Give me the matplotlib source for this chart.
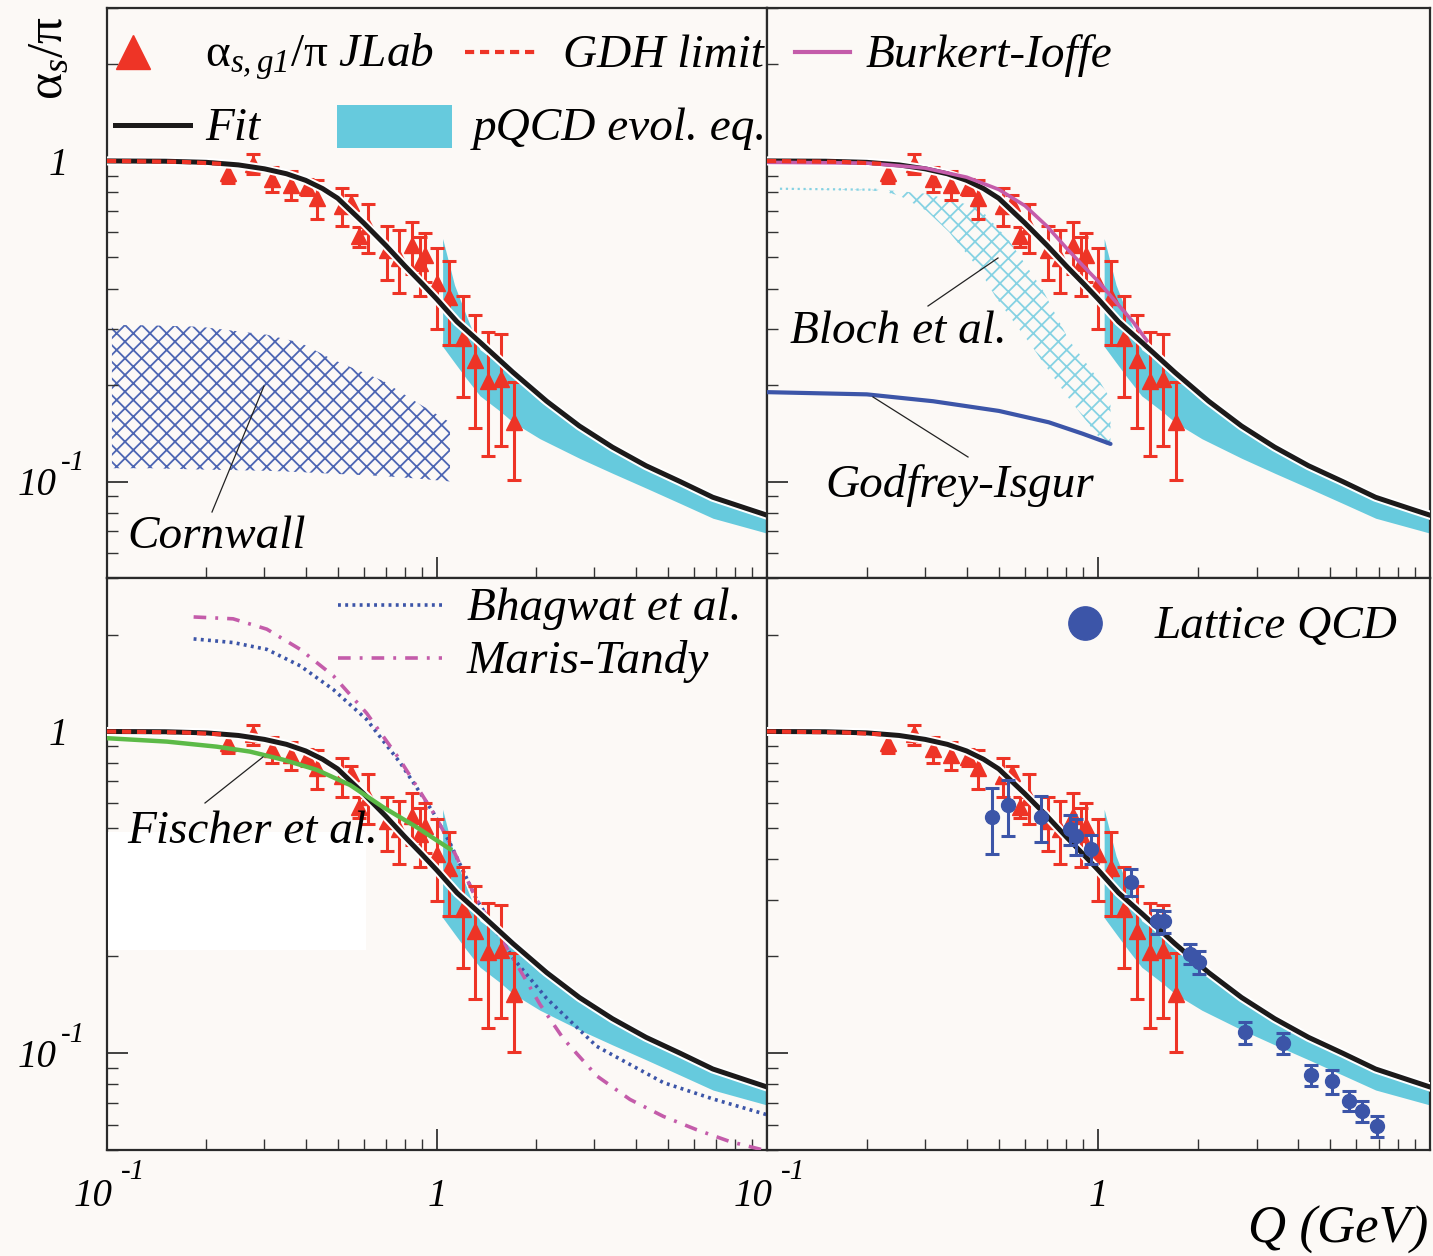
import numpy as np
import matplotlib
matplotlib.use("Agg")
import matplotlib.pyplot as plt
import matplotlib.patheffects as pe
from matplotlib.ticker import FixedLocator, LogLocator, NullFormatter
from matplotlib.patches import Rectangle

W, H = 1433, 1256

plt.rcParams['font.family'] = ['Liberation Serif', 'DejaVu Serif']
plt.rcParams['mathtext.fontset'] = 'custom'
plt.rcParams['mathtext.rm'] = 'Liberation Serif:italic'
plt.rcParams['mathtext.it'] = 'Liberation Serif:italic'
plt.rcParams['mathtext.sf'] = 'Liberation Serif'
plt.rcParams['hatch.linewidth'] = 1.3

# JLab alpha_s,g1/pi points
jlab_q = [0.232, 0.277, 0.316, 0.360, 0.403, 0.432, 0.514, 0.547, 0.580, 0.618, 0.706,
          0.767, 0.838, 0.888, 0.920, 0.998, 1.087, 1.196, 1.307, 1.430, 1.560, 1.711]
jlab_a = [0.920, 0.979, 0.880, 0.843, 0.831, 0.768, 0.726, 0.741, 0.582, 0.625, 0.526,
          0.497, 0.545, 0.480, 0.508, 0.416, 0.377, 0.281, 0.239, 0.206, 0.209, 0.153]
jlab_err = [0.065, 0.07, 0.08, 0.085, 0.05, 0.107, 0.10, 0.04, 0.042, 0.11, 0.10,
            0.11, 0.10, 0.10, 0.09, 0.118, 0.11, 0.097, 0.092, 0.086, 0.08, 0.052]

# fit
fit_q = [0.10, 0.15, 0.20, 0.25, 0.30, 0.35, 0.40, 0.45, 0.50, 0.60, 0.70, 0.80, 0.90,
         1.00, 1.15, 1.35, 1.70, 2.15, 2.70, 3.40, 4.30, 5.45, 6.85, 8.70, 10.0]
fit_a = [1.000, 0.998, 0.990, 0.972, 0.945, 0.912, 0.870, 0.820, 0.765, 0.640, 0.545, 0.470, 0.415,
         0.370, 0.315, 0.272, 0.219, 0.178, 0.149, 0.128, 0.112, 0.100, 0.0893, 0.0823, 0.0785]

# GDH limit
gdh_q = [0.10, 0.17, 0.23]
gdh_a = [1.000, 0.993, 0.978]

# pQCD evolution band
band_q = [1.04, 1.13, 1.23, 1.35, 1.55, 1.70, 2.05, 2.71, 3.41, 4.33, 5.45, 6.86, 10.0]
band_hi = [0.573, 0.410, 0.327, 0.258, 0.232, 0.213, 0.178, 0.146, 0.1265, 0.1097, 0.0972, 0.0873, 0.0768]
band_lo = [0.264, 0.235, 0.209, 0.185, 0.166, 0.153, 0.136, 0.118, 0.106, 0.0951, 0.0855, 0.0768, 0.069]

# Cornwall
corn_q = [0.1035, 0.135, 0.191, 0.305, 0.385, 0.484, 0.686, 0.888, 1.095]
corn_hi = [0.308, 0.307, 0.304, 0.287, 0.271, 0.240, 0.206, 0.174, 0.153]
corn_lo = [0.110, 0.110, 0.109, 0.108, 0.107, 0.1057, 0.104, 0.102, 0.100]

# Bloch et al.
bloch_q = [0.1094, 0.2184, 0.2508, 0.3023, 0.3543, 0.4361, 0.4905, 0.5367, 0.6336, 0.6788,
           0.8127, 1.0, 1.087]
bloch_hi = [0.819, 0.813, 0.805, 0.790, 0.757, 0.715, 0.626, 0.565, 0.440, 0.396,
            0.277, 0.208, 0.181]
bloch_lo = [0.819, 0.808, 0.780, 0.700, 0.600, 0.460, 0.375, 0.330, 0.262, 0.236,
            0.182, 0.138, 0.126]

# Godfrey-Isgur
gi_q = [0.1, 0.2, 0.317, 0.501, 0.708, 0.895, 1.087]
gi_a = [0.190, 0.187, 0.178, 0.166, 0.153, 0.141, 0.131]

# Burkert-Ioffe
bi_q = [0.10, 0.20, 0.30, 0.40, 0.50, 0.60, 0.70, 0.80, 0.90, 1.00, 1.15, 1.27, 1.40]
bi_a = [0.990, 0.985, 0.950, 0.890, 0.815, 0.725, 0.625, 0.535, 0.470, 0.420, 0.355, 0.315, 0.275]

# Fischer et al.
fis_q = [0.1, 0.152, 0.215, 0.271, 0.342, 0.432, 0.545, 0.686, 0.868, 1.095]
fis_a = [0.953, 0.930, 0.897, 0.866, 0.817, 0.760, 0.682, 0.582, 0.504, 0.431]

# Bhagwat et al.
bha_q = [0.183, 0.241, 0.305, 0.385, 0.485, 0.612, 0.773, 0.974, 1.095, 1.319, 1.703,
         2.149, 3.048, 4.852, 6.876, 9.98]
bha_a = [1.94, 1.89, 1.80, 1.60, 1.35, 1.09, 0.80, 0.56, 0.45, 0.30, 0.197,
         0.148, 0.105, 0.081, 0.072, 0.0644]

# Maris-Tandy
mt_q = [0.183, 0.241, 0.305, 0.385, 0.485, 0.612, 0.773, 0.974, 1.095, 1.319, 1.703,
        2.05, 2.414, 3.048, 3.844, 4.852, 6.124, 7.727, 9.745]
mt_a = [2.27, 2.24, 2.08, 1.80, 1.49, 1.14, 0.815, 0.56, 0.45, 0.30, 0.197,
        0.142, 0.111, 0.085, 0.0718, 0.0636, 0.0578, 0.0531, 0.050]

# Lattice QCD
lat_q = [0.478, 0.534, 0.673, 0.822, 0.855, 0.951, 1.254, 1.501, 1.578, 1.886, 2.006,
         2.758, 3.602, 4.371, 5.078, 5.700, 6.219, 6.933]
lat_a = [0.542, 0.589, 0.542, 0.498, 0.474, 0.431, 0.341, 0.257, 0.257, 0.204, 0.1925,
         0.1161, 0.1075, 0.0853, 0.0819, 0.0712, 0.0659, 0.0594]
lat_err = [0.125, 0.117, 0.088, 0.053, 0.06, 0.045, 0.032, 0.022, 0.02, 0.015, 0.016,
           0.009, 0.008, 0.0065, 0.007, 0.005, 0.005, 0.0045]

BG = '#fcf9f6'
RED = '#ee3426'
CYAN = '#66cadd'
BLACK = '#1c1a1a'
MAG = '#c45caa'
BLUE = '#3c55a8'
GREEN = '#5cba47'
TXT = 34

fig = plt.figure(figsize=(W / 100, H / 100), dpi=100, facecolor=BG)


def box(x0, y0, x1, y1):
    return [x0 / W, 1 - y1 / H, (x1 - x0) / W, (y1 - y0) / H]


ax_tl = fig.add_axes(box(107, 8, 767, 578))
ax_tr = fig.add_axes(box(767, 8, 1430, 578))
ax_bl = fig.add_axes(box(107, 578, 767, 1150))
ax_br = fig.add_axes(box(767, 578, 1430, 1150))


def base(ax):
    ax.set_xscale('log')
    ax.set_yscale('log')
    ax.set_xlim(0.1, 10)
    ax.set_ylim(0.05, 3.0)
    ax.set_facecolor(BG)
    ax.fill_between(band_q, band_lo, band_hi, color=CYAN, lw=0, zorder=2)
    ax.errorbar(jlab_q, jlab_a, yerr=jlab_err, fmt='^', color=RED, ms=11, lw=2.2,
                capsize=5, capthick=2.2, zorder=4)
    ax.plot(fit_q, fit_a, color=BLACK, lw=3.6, zorder=5,
            path_effects=[pe.Stroke(linewidth=6.5, foreground='white'), pe.Normal()])
    ax.plot(gdh_q, gdh_a, color=RED, lw=3, dashes=(2.2, 1.4), zorder=7)
    for a in (ax.xaxis, ax.yaxis):
        a.set_minor_locator(LogLocator(base=10, subs=np.arange(2, 10), numticks=20))
        a.set_minor_formatter(NullFormatter())
    ax.xaxis.set_major_locator(FixedLocator([0.1, 1, 10]))
    ax.yaxis.set_major_locator(FixedLocator([0.1, 1]))
    ax.tick_params(which='both', direction='in', top=False, right=False,
                   labelbottom=False, labelleft=False, colors='#333333')
    ax.tick_params(which='major', length=15, width=1.3)
    ax.tick_params(which='minor', length=8, width=1.0)
    for s in ax.spines.values():
        s.set_linewidth(1.6)
        s.set_color('#2a2a2a')


for ax in (ax_tl, ax_tr, ax_bl, ax_br):
    base(ax)

# top-left: Cornwall
plt.rcParams['hatch.color'] = '#4d66b3'
ax_tl.fill_between(corn_q, corn_lo, corn_hi, facecolor='none', edgecolor='#4d66b3',
                   hatch='xx', lw=0, zorder=1)

# top-right: Bloch, Godfrey-Isgur, Burkert-Ioffe
plt.rcParams['hatch.color'] = '#86d2e3'
ax_tr.fill_between(bloch_q, bloch_lo, bloch_hi, facecolor='none', edgecolor='#86d2e3',
                   hatch='xx', lw=0, zorder=1)
ax_tr.plot(bloch_q[:2], bloch_hi[:2], ls=':', color='#86d2e3', lw=1.6, zorder=1)
ax_tr.plot(gi_q, gi_a, color=BLUE, lw=3, solid_capstyle='round', zorder=3)
ax_tr.plot(bi_q, bi_a, color=MAG, lw=2.6, zorder=6)

# bottom-left: Fischer, Bhagwat, Maris-Tandy
ax_bl.plot(fis_q, fis_a, color=GREEN, lw=3.2, zorder=6)
ax_bl.plot(bha_q, bha_a, color=BLUE, lw=2.6, dashes=(0.8, 1.2), zorder=3)
ax_bl.plot(mt_q, mt_a, color=MAG, lw=2.6, dashes=(3.5, 2.5, 0.8, 2.5), zorder=3)

# bottom-right: lattice
ax_br.errorbar(lat_q, lat_a, yerr=lat_err, fmt='o', color=BLUE, ms=10, lw=2.2,
               capsize=5, capthick=2.2, zorder=6)

# tick labels, ROOT style "10 -1"
tfs = 28
sfs = 21


def tick_text(ax, xy, coords, s, dx, dy, size, ha):
    ax.annotate(s, xy=xy, xycoords=coords, xytext=(dx, dy), textcoords='offset points',
                ha=ha, va='baseline', fontsize=size, style='italic', annotation_clip=False)


for ax in (ax_tl, ax_bl):
    tr = ax.get_yaxis_transform()
    tick_text(ax, (0, 1), tr, '1', -28, -10, tfs, 'right')
    tick_text(ax, (0, 0.1), tr, '10', -36, -10, tfs, 'right')
    tick_text(ax, (0, 0.1), tr, '-1', -33, 8, sfs, 'left')
for ax in (ax_bl, ax_br):
    tr = ax.get_xaxis_transform()
    tick_text(ax, (0.1, 0), tr, '10', 4, -40, tfs, 'right')
    tick_text(ax, (0.1, 0), tr, '-1', 10, -21, sfs, 'left')
    tick_text(ax, (1, 0), tr, '1', 0, -40, tfs, 'center')

# overlay in pixel coordinates for legends and labels
ov = fig.add_axes([0, 0, 1, 1], facecolor='none')
ov.set_xlim(0, W)
ov.set_ylim(H, 0)
ov.axis('off')

ov.add_patch(Rectangle((108, 832), 258, 118, facecolor='white', edgecolor='none', zorder=0))

ov.plot([133], [52], marker='^', ms=24, color=RED, ls='none')
ov.text(205, 67, r'$\mathsf{\alpha}_{s,g1}\mathsf{/\pi}$ JLab', fontsize=TXT, style='italic',
        va='baseline')
ov.plot([465, 540], [52, 52], color=RED, lw=3, dashes=(2.2, 1.4))
ov.text(563, 67, 'GDH limit', fontsize=TXT, style='italic', va='baseline')
ov.plot([795, 850], [52, 52], color=MAG, lw=3)
ov.text(866, 67, 'Burkert-Ioffe', fontsize=TXT, style='italic', va='baseline')
ov.plot([115, 190], [125, 125], color=BLACK, lw=3.6)
ov.text(205, 140, 'Fit', fontsize=TXT, style='italic', va='baseline')
ov.add_patch(Rectangle((337, 105), 115, 43, facecolor=CYAN, edgecolor='none'))
ov.text(473, 140, 'pQCD evol. eq.', fontsize=TXT, style='italic', va='baseline')

ov.text(127, 548, 'Cornwall', fontsize=TXT, style='italic', va='baseline')
ov.plot([212, 264], [512, 386], color='#222222', lw=0.9)
ov.text(790, 343, 'Bloch et al.', fontsize=TXT, style='italic', va='baseline')
ov.plot([928, 998], [306, 258], color='#222222', lw=0.9)
ov.text(825, 497, 'Godfrey-Isgur', fontsize=TXT, style='italic', va='baseline')
ov.plot([968, 873], [457, 397], color='#222222', lw=0.9)

ov.plot([338, 445], [605, 605], color=BLUE, lw=2.6, dashes=(0.8, 1.2))
ov.text(467, 620, 'Bhagwat et al.', fontsize=TXT, style='italic', va='baseline')
ov.plot([338, 442], [658, 658], color=MAG, lw=2.6, dashes=(3.5, 2.5, 0.8, 2.5))
ov.text(467, 673, 'Maris-Tandy', fontsize=TXT, style='italic', va='baseline')
ov.text(127, 843, 'Fischer et al.', fontsize=TXT, style='italic', va='baseline')
ov.plot([205, 263], [803, 757], color='#222222', lw=0.9)

ov.plot([1085], [623], marker='o', ms=24, color=BLUE, ls='none')
ov.text(1155, 638, 'Lattice QCD', fontsize=TXT, style='italic', va='baseline')

ov.text(1428, 1243, 'Q (GeV)', fontsize=38, style='italic', ha='right', va='baseline')
ov.text(50, 16, r'$\mathsf{\alpha}_s\mathsf{/\pi}$', fontsize=37, rotation=90,
        ha='center', va='top')

fig.savefig('out.png', dpi=100, facecolor=BG)
